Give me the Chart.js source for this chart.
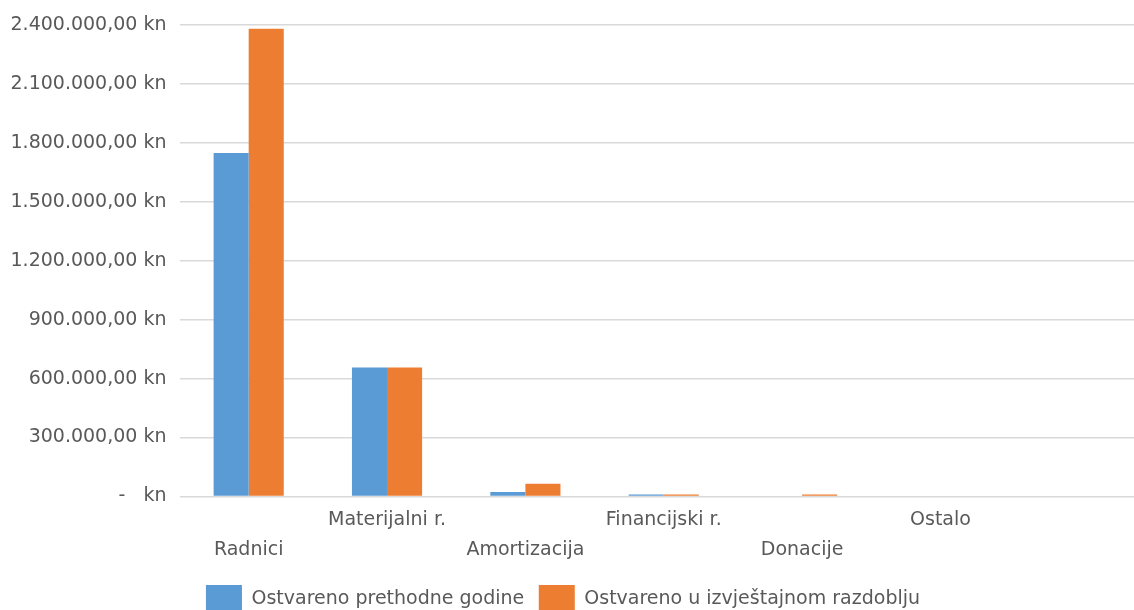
<!DOCTYPE html>
<html>
<head>
<meta charset="utf-8">
<script src="https://cdn.jsdelivr.net/npm/chart.js@4.4.1/dist/chart.umd.min.js"></script>
<style>
  html, body { margin: 0; padding: 0; background: #fff; overflow: hidden; }
  #wrap { position: absolute; left: -30px; top: 0; width: 1178px; height: 623px; }
</style>
</head>
<body>
<div id="wrap"><canvas id="chart"></canvas></div>
<script>
// categories (last one is an empty slot, as in the original sheet)
const categories = ['Radnici', 'Materijalni r.', 'Amortizacija', 'Financijski r.', 'Donacije', 'Ostalo', ''];
const seriesNames = ['Ostvareno prethodne godine', 'Ostvareno u izvještajnom razdoblju'];
const prevYear = [1748000, 656000, 23000, 10000, 0, 0, null];
const currentPeriod = [2381000, 656000, 65000, 10000, 10000, 0, null];
const yTicks = [0, 300000, 600000, 900000, 1200000, 1500000, 1800000, 2100000, 2400000];

const textColor = '#595959';
const font = { family: 'DejaVu Sans', size: 19 };

// 2.400.000,00 kn style, zero shown as a dash
const formatKn = (v) => {
  if (v === 0) return '-   kn';
  const parts = v.toFixed(2).split('.');
  const whole = parts[0].replace(/\B(?=(\d{3})+(?!\d))/g, '.');
  return whole + ',' + parts[1] + ' kn';
};

const ctx = document.getElementById('chart').getContext('2d');
const chart = new Chart(ctx, {
  type: 'bar',
  data: {
    labels: categories,
    datasets: [
      {
        label: seriesNames[0],
        data: prevYear,
        backgroundColor: '#5B9BD5',
        barPercentage: 1.0,
        categoryPercentage: 0.507
      },
      {
        label: seriesNames[1],
        data: currentPeriod,
        backgroundColor: '#ED7D31',
        barPercentage: 1.0,
        categoryPercentage: 0.507
      }
    ]
  },
  options: {
    responsive: true,
    maintainAspectRatio: false,
    animation: false,
    layout: {
      padding: { top: 25, left: 8, right: 0, bottom: 0 }
    },
    scales: {
      x: {
        grid: { display: false },
        border: { display: false },
        afterFit: (scale) => {
          scale.height = scale.height + 4;
        },
        ticks: {
          color: textColor,
          font: { family: font.family, size: font.size, lineHeight: 1.58 },
          padding: 1,
          maxRotation: 0,
          autoSkip: false,
          // alternate labels between two rows
          callback: function(value, index) {
            const label = categories[index];
            return index % 2 === 0 ? ['', label] : [label, ''];
          }
        }
      },
      y: {
        min: 0,
        max: 2400000,
        afterBuildTicks: (scale) => {
          scale.ticks = yTicks.map(v => ({ value: v }));
        },
        afterFit: (scale) => {
          scale.width = 201.5;
        },
        grid: { color: '#D9D9D9', lineWidth: 1.5, drawTicks: false },
        border: { display: false },
        ticks: {
          color: textColor,
          font: font,
          padding: 13,
          callback: (v) => formatKn(v)
        }
      }
    },
    plugins: {
      legend: {
        position: 'bottom',
        labels: {
          color: textColor,
          font: font,
          boxWidth: 36,
          boxHeight: 28,
          padding: 14.5
        }
      },
      tooltip: { enabled: false },
      title: { display: false }
    }
  }
});
</script>
</body>
</html>
